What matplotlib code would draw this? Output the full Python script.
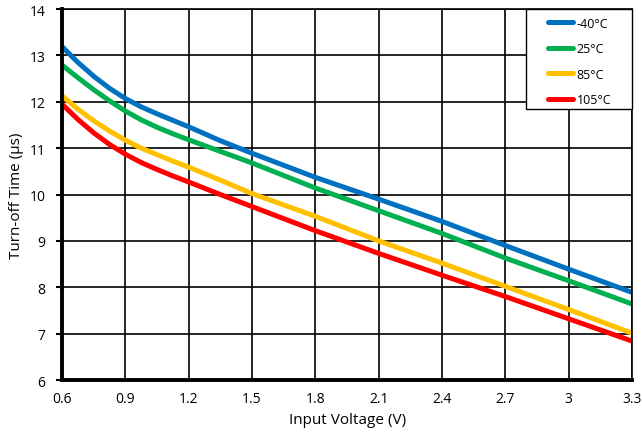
import numpy as np
import matplotlib.pyplot as plt
from matplotlib.patches import Rectangle

plt.rcParams['font.family'] = ['Open Sans', 'DejaVu Sans']

# input voltage (V)
vin = [0.6, 0.675, 0.75, 0.825, 0.9, 0.975, 1.05, 1.125, 1.2, 1.35, 1.5,
       1.8, 2.1, 2.4, 2.7, 3.0, 3.3]

# turn-off time (us) per temperature
t_m40 = [13.19, 12.85, 12.55, 12.29, 12.07, 11.89, 11.74, 11.6, 11.46, 11.16, 10.89,
         10.37, 9.9, 9.42, 8.9, 8.39, 7.89]
t_25 = [12.79, 12.52, 12.26, 12.02, 11.8, 11.61, 11.45, 11.31, 11.18, 10.93, 10.68,
        10.14, 9.65, 9.16, 8.63, 8.14, 7.64]
t_85 = [12.13, 11.84, 11.59, 11.37, 11.17, 11.0, 10.86, 10.72, 10.59, 10.31, 10.02,
        9.53, 9.0, 8.52, 8.02, 7.52, 7.01]
t_105 = [11.95, 11.62, 11.33, 11.08, 10.87, 10.69, 10.54, 10.4, 10.27, 10.0, 9.74,
         9.22, 8.73, 8.26, 7.8, 7.32, 6.84]

labels = ['-40°C', '25°C', '85°C', '105°C']
colors = ['#0070C0', '#00B050', '#FFC000', '#FF0000']

fig = plt.figure(figsize=(6.42, 4.35), dpi=100)
ax = fig.add_axes([0.0966, 0.124, 0.888, 0.853])

for y, lab, c in zip([t_m40, t_25, t_85, t_105], labels, colors):
    ax.plot(vin, y, color=c, lw=3.6, label=lab, solid_capstyle='round',
            solid_joinstyle='round')

ax.set_xlim(0.6, 3.3)
ax.set_ylim(6, 14)
xt = [0.6, 0.9, 1.2, 1.5, 1.8, 2.1, 2.4, 2.7, 3.0, 3.3]
ax.set_xticks(xt)
ax.set_xticklabels(['0.6', '0.9', '1.2', '1.5', '1.8', '2.1', '2.4', '2.7', '3', '3.3'])
ax.set_yticks(range(6, 15))
ax.grid(True, color='black', lw=1.2)
ax.tick_params(labelsize=10, length=4, width=1.5, pad=8)
ax.tick_params(axis='x', length=0)

for s in ['left', 'bottom']:
    ax.spines[s].set_linewidth(2.8)
for s in ['top', 'right']:
    ax.spines[s].set_linewidth(1.2)

ax.set_xlabel('Input Voltage (V)', fontsize=11)
ax.set_ylabel('Turn-off Time (µs)', fontsize=11)

# legend box
ax.add_patch(Rectangle((0.814, 0.7305), 0.186, 0.2695, transform=ax.transAxes,
                       facecolor='white', edgecolor='black', lw=1.0, zorder=4,
                       clip_on=False))
leg = ax.legend(loc='upper left', bbox_to_anchor=(0.853, 0.979), fontsize=9,
                handlelength=2.0, handletextpad=0.25, labelspacing=1.0,
                borderpad=0.0, borderaxespad=0.0, frameon=False)
leg.set_zorder(5)

fig.savefig('out.png', dpi=100)
